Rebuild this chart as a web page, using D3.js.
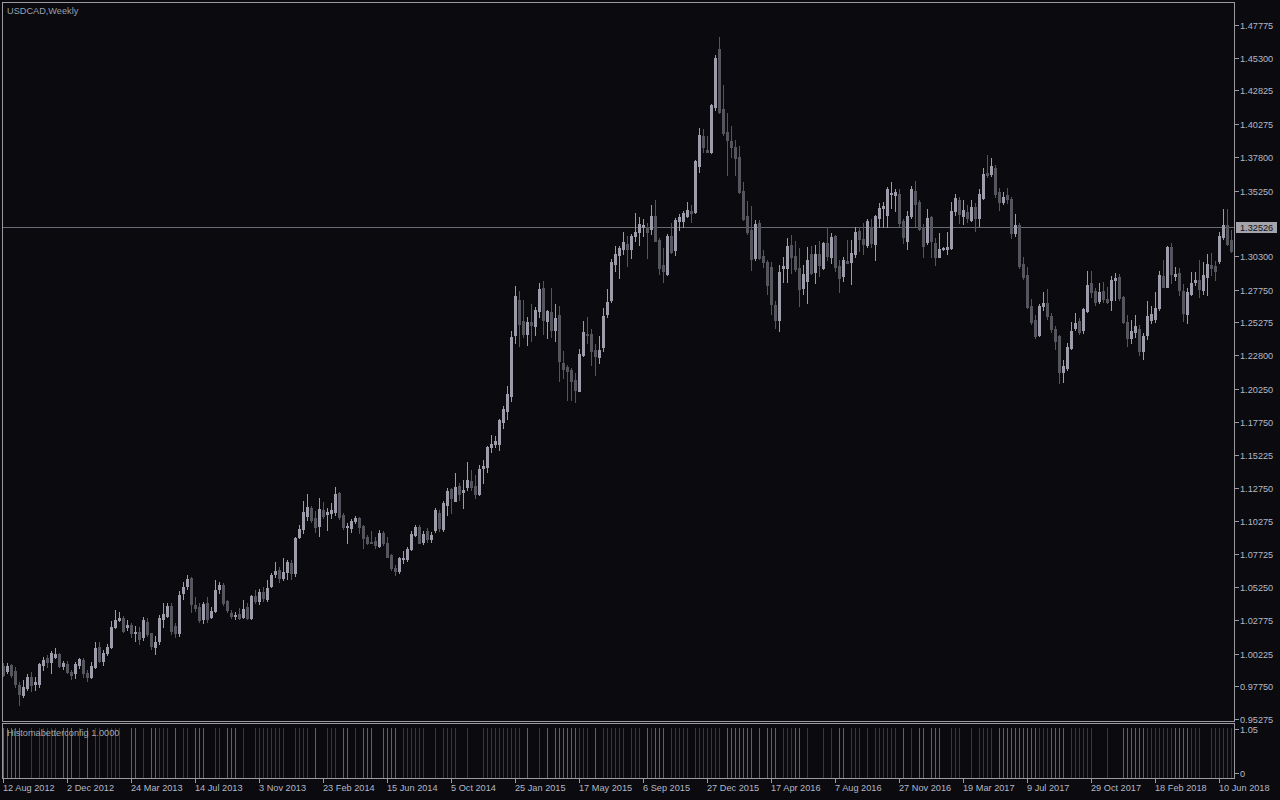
<!DOCTYPE html>
<html><head><meta charset="utf-8">
<script src="https://cdn.jsdelivr.net/npm/d3@7"></script>
<style>
html,body{margin:0;padding:0;background:#0a0a0f;overflow:hidden;}
svg{display:block;}
text{font-family:"Liberation Sans",Arial,sans-serif;}
</style></head><body>
<svg id="c" width="1280" height="800"></svg>
<script>
const symbolTitle = "USDCAD,Weekly";
const indicatorTitle = "Histomabetterconfig 1.0000";
const firstWeek = "2012-08-12";
const bidPrice = 1.32526;

const open = [0.9929,0.9893,0.9936,0.9891,0.9785,0.9709,0.9760,0.9848,0.9793,0.9793,
0.9936,0.9992,0.9961,0.9999,1.0019,0.9929,0.9944,0.9883,0.9873,0.9936,
0.9974,0.9873,0.9848,0.9924,1.0070,0.9969,1.0029,1.0070,1.0226,1.0276,
1.0294,1.0226,1.0239,1.0181,1.0188,1.0145,1.0264,1.0176,1.0075,1.0120,
1.0284,1.0307,1.0385,1.0231,1.0181,1.0483,1.0533,1.0594,1.0390,1.0372,
1.0281,1.0402,1.0297,1.0347,1.0511,1.0541,1.0423,1.0332,1.0307,1.0322,
1.0302,1.0377,1.0294,1.0458,1.0423,1.0486,1.0435,1.0534,1.0624,1.0655,
1.0597,1.0642,1.0710,1.0634,1.0907,1.0962,1.1063,1.1123,1.1050,1.0987,
1.1108,1.1080,1.1088,1.1093,1.1234,1.1070,1.0982,1.0975,1.1028,1.1048,
1.0987,1.0907,1.0866,1.0876,1.0839,1.0937,1.0861,1.0768,1.0672,1.0650,
1.0738,1.0735,1.0813,1.0919,1.0982,1.0870,1.0950,1.0890,1.0958,1.1089,
1.0963,1.1147,1.1266,1.1180,1.1291,1.1241,1.1286,1.1331,1.1291,1.1231,
1.1430,1.1437,1.1588,1.1606,1.1609,1.1777,1.1861,1.1971,1.2433,1.2697,
1.2538,1.2440,1.2531,1.2501,1.2617,1.2788,1.2538,1.2609,1.2470,1.2584,
1.2218,1.2191,1.2165,1.2094,1.2011,1.2283,1.2442,1.2442,1.2321,1.2263,
1.2338,1.2593,1.2694,1.2971,1.3034,1.3084,1.3122,1.3084,1.3178,1.3208,
1.3253,1.3253,1.3233,1.3334,1.3152,1.2963,1.2895,1.3178,1.3072,1.3296,
1.3296,1.3336,1.3367,1.3362,1.3714,1.3939,1.3833,1.3813,1.4160,1.4596,
1.4143,1.3969,1.3903,1.3858,1.3782,1.3523,1.3334,1.3228,1.3014,1.3283,
1.3031,1.2988,1.2950,1.2660,1.2547,1.2937,1.2942,1.3114,1.3031,1.2937,
1.2791,1.2842,1.3046,1.2912,1.3046,1.2942,1.3126,1.3026,1.3182,1.2955,
1.2879,1.2993,1.2988,1.3046,1.3220,1.3157,1.3114,1.3247,1.3121,1.3320,
1.3396,1.3341,1.3499,1.3492,1.3499,1.3295,1.3147,1.3333,1.3522,1.3441,
1.3252,1.3134,1.3328,1.3131,1.3026,1.3086,1.3084,1.3094,1.3373,1.3454,
1.3336,1.3363,1.3303,1.3404,1.3320,1.3472,1.3656,1.3651,1.3693,1.3512,
1.3436,1.3492,1.3462,1.3207,1.3265,1.2970,1.2887,1.2648,1.2546,1.2433,
1.2653,1.2673,1.2577,1.2478,1.2425,1.2156,1.2186,1.2337,1.2488,1.2541,
1.2471,1.2617,1.2829,1.2768,1.2693,1.2768,1.2705,1.2698,1.2849,1.2874,
1.2723,1.2534,1.2413,1.2458,1.2476,1.2315,1.2433,1.2546,1.2554,1.2640,
1.2879,1.2798,1.3101,1.2879,1.2904,1.2768,1.2592,1.2743,1.2836,1.2849,
1.2773,1.2869,1.2962,1.2955,1.2992,1.3176,1.3265,1.3151];

const high = [0.9954,0.9954,0.9944,0.9924,0.9810,0.9823,0.9868,0.9886,0.9848,0.9949,
0.9999,1.0012,1.0045,1.0062,1.0024,0.9969,0.9966,0.9898,0.9956,0.9987,
0.9987,0.9898,0.9961,1.0113,1.0113,1.0050,1.0095,1.0271,1.0352,1.0339,
1.0309,1.0276,1.0251,1.0231,1.0226,1.0302,1.0289,1.0181,1.0155,1.0314,
1.0402,1.0407,1.0402,1.0251,1.0498,1.0566,1.0617,1.0604,1.0448,1.0407,
1.0415,1.0453,1.0377,1.0579,1.0566,1.0554,1.0428,1.0352,1.0340,1.0365,
1.0428,1.0403,1.0466,1.0503,1.0508,1.0529,1.0579,1.0634,1.0718,1.0680,
1.0743,1.0730,1.0730,1.0907,1.0995,1.1176,1.1229,1.1138,1.1101,1.1196,
1.1169,1.1121,1.1159,1.1285,1.1247,1.1083,1.1007,1.1038,1.1063,1.1058,
1.0995,1.0919,1.0952,1.0907,1.0957,1.0952,1.0902,1.0776,1.0692,1.0750,
1.0801,1.0831,1.0952,1.0995,1.0995,1.0950,1.0975,1.0940,1.1122,1.1110,
1.1180,1.1273,1.1273,1.1387,1.1311,1.1336,1.1475,1.1412,1.1374,1.1450,
1.1488,1.1593,1.1677,1.1669,1.1795,1.1896,1.2047,1.2463,1.2803,1.2768,
1.2697,1.2571,1.2667,1.2642,1.2823,1.2841,1.2622,1.2785,1.2667,1.2652,
1.2312,1.2206,1.2182,1.2144,1.2326,1.2540,1.2568,1.2480,1.2366,1.2427,
1.2636,1.2779,1.3006,1.3107,1.3102,1.3215,1.3183,1.3198,1.3359,1.3324,
1.3309,1.3283,1.3417,1.3455,1.3165,1.3089,1.3198,1.3283,1.3316,1.3349,
1.3372,1.3442,1.3417,1.3757,1.4002,1.3989,1.3939,1.4181,1.4551,1.4690,
1.4324,1.4110,1.4014,1.3908,1.3863,1.3593,1.3447,1.3409,1.3299,1.3303,
1.3076,1.3000,1.2988,1.2693,1.2963,1.3021,1.3164,1.3189,1.3147,1.3089,
1.2963,1.3096,1.3106,1.3114,1.3144,1.3139,1.3247,1.3202,1.3189,1.3000,
1.3026,1.3152,1.3152,1.3247,1.3247,1.3277,1.3310,1.3308,1.3341,1.3429,
1.3441,1.3555,1.3588,1.3535,1.3535,1.3308,1.3371,1.3560,1.3598,1.3454,
1.3273,1.3383,1.3333,1.3164,1.3207,1.3101,1.3215,1.3436,1.3499,1.3479,
1.3454,1.3416,1.3454,1.3429,1.3535,1.3693,1.3794,1.3769,1.3719,1.3542,
1.3517,1.3542,1.3474,1.3348,1.3277,1.3021,1.2950,1.2705,1.2584,1.2668,
1.2756,1.2778,1.2602,1.2501,1.2433,1.2244,1.2375,1.2534,1.2602,1.2559,
1.2635,1.2919,1.2919,1.2786,1.2824,1.2836,1.2793,1.2879,1.2899,1.2894,
1.2728,1.2584,1.2546,1.2584,1.2509,1.2446,1.2693,1.2655,1.2761,1.2919,
1.2999,1.3106,1.3131,1.2950,1.2937,1.2819,1.2786,1.2912,1.2912,1.2999,
1.2987,1.3045,1.3050,1.2992,1.3214,1.3383,1.3383,1.3227];

const low = [0.9853,0.9873,0.9848,0.9772,0.9634,0.9697,0.9747,0.9742,0.9747,0.9772,
0.9898,0.9924,0.9878,0.9987,0.9919,0.9903,0.9873,0.9830,0.9840,0.9911,
0.9843,0.9818,0.9835,0.9911,0.9961,0.9936,1.0012,1.0062,1.0213,1.0271,
1.0188,1.0201,1.0150,1.0118,1.0095,1.0125,1.0155,1.0055,1.0017,1.0092,
1.0226,1.0302,1.0171,1.0145,1.0155,1.0433,1.0508,1.0334,1.0347,1.0264,
1.0251,1.0264,1.0289,1.0340,1.0478,1.0390,1.0340,1.0289,1.0282,1.0282,
1.0289,1.0282,1.0282,1.0408,1.0398,1.0423,1.0423,1.0529,1.0604,1.0566,
1.0579,1.0584,1.0584,1.0609,1.0894,1.0932,1.1033,1.1020,1.0944,1.0914,
1.1050,1.0957,1.1045,1.1070,1.1038,1.0962,1.0861,1.0944,1.1007,1.0932,
1.0818,1.0849,1.0856,1.0823,1.0831,1.0844,1.0750,1.0655,1.0617,1.0634,
1.0710,1.0725,1.0806,1.0912,1.0856,1.0850,1.0870,1.0865,1.0940,1.0946,
1.0953,1.1072,1.1084,1.1173,1.1185,1.1127,1.1261,1.1261,1.1198,1.1223,
1.1316,1.1399,1.1551,1.1583,1.1563,1.1732,1.1798,1.1936,1.2375,1.2349,
1.2420,1.2357,1.2390,1.2433,1.2571,1.2440,1.2407,1.2420,1.2390,1.2087,
1.2105,1.1941,1.1938,1.1923,1.2006,1.2275,1.2371,1.2207,1.2127,1.2220,
1.2308,1.2568,1.2679,1.2913,1.2863,1.3047,1.2951,1.3014,1.3140,1.3115,
1.3178,1.3014,1.3198,1.3140,1.2895,1.2832,1.2888,1.3052,1.3034,1.3228,
1.3246,1.3324,1.3291,1.3354,1.3669,1.3813,1.3813,1.3808,1.4135,1.4110,
1.3946,1.3639,1.3782,1.3644,1.3505,1.3304,1.3198,1.2921,1.3001,1.3005,
1.2950,1.2743,1.2592,1.2484,1.2459,1.2837,1.2837,1.2905,1.2920,1.2653,
1.2743,1.2678,1.2895,1.2829,1.2879,1.2930,1.3000,1.2975,1.2920,1.2761,
1.2844,1.2975,1.2819,1.3026,1.3071,1.3046,1.3101,1.3101,1.3000,1.3252,
1.3252,1.3247,1.3396,1.3371,1.3257,1.3131,1.3081,1.3315,1.3257,1.3227,
1.3021,1.3119,1.3026,1.2963,1.3021,1.3076,1.3046,1.3081,1.3341,1.3283,
1.3273,1.3290,1.3295,1.3222,1.3257,1.3459,1.3630,1.3635,1.3479,1.3378,
1.3421,1.3429,1.3164,1.3182,1.2937,1.2854,1.2635,1.2516,1.2413,1.2425,
1.2622,1.2556,1.2458,1.2325,1.2068,1.2080,1.2168,1.2325,1.2471,1.2441,
1.2451,1.2609,1.2723,1.2660,1.2673,1.2685,1.2673,1.2622,1.2698,1.2698,
1.2526,1.2352,1.2375,1.2420,1.2282,1.2249,1.2400,1.2521,1.2534,1.2622,
1.2793,1.2793,1.2829,1.2849,1.2735,1.2541,1.2526,1.2735,1.2811,1.2723,
1.2743,1.2735,1.2887,1.2849,1.2975,1.3156,1.3114,1.3063];

const close = [0.9861,0.9929,0.9861,0.9793,0.9717,0.9772,0.9848,0.9785,0.9808,0.9944,
0.9974,0.9956,1.0024,1.0017,0.9929,0.9954,0.9886,0.9861,0.9944,0.9982,
0.9878,0.9848,0.9929,1.0062,0.9969,1.0029,1.0070,1.0226,1.0276,1.0294,
1.0193,1.0239,1.0176,1.0188,1.0133,1.0276,1.0171,1.0080,1.0113,1.0289,
1.0322,1.0382,1.0193,1.0176,1.0465,1.0528,1.0586,1.0397,1.0365,1.0276,
1.0395,1.0281,1.0347,1.0503,1.0541,1.0408,1.0352,1.0307,1.0314,1.0294,
1.0360,1.0289,1.0458,1.0423,1.0491,1.0440,1.0521,1.0617,1.0650,1.0592,
1.0642,1.0718,1.0634,1.0899,1.0962,1.1096,1.1128,1.1033,1.0982,1.1116,
1.1063,1.1093,1.1108,1.1229,1.1058,1.0982,1.0987,1.1025,1.1048,1.0977,
1.0899,1.0861,1.0861,1.0844,1.0937,1.0856,1.0755,1.0667,1.0647,1.0743,
1.0745,1.0811,1.0927,1.0982,1.0861,1.0930,1.0890,1.0920,1.1105,1.0971,
1.1165,1.1256,1.1198,1.1286,1.1231,1.1261,1.1336,1.1286,1.1231,1.1420,
1.1442,1.1588,1.1609,1.1631,1.1790,1.1873,1.1987,1.2420,1.2727,1.2516,
1.2440,1.2531,1.2508,1.2622,1.2780,1.2546,1.2614,1.2470,1.2561,1.2239,
1.2176,1.2160,1.2081,1.2013,1.2291,1.2452,1.2429,1.2308,1.2270,1.2321,
1.2573,1.2679,1.2981,1.3047,1.3089,1.3137,1.3084,1.3183,1.3215,1.3273,
1.3263,1.3215,1.3334,1.3147,1.2936,1.2913,1.3178,1.3059,1.3304,1.3324,
1.3359,1.3379,1.3359,1.3752,1.3946,1.3853,1.3820,1.4173,1.4528,1.4123,
1.3964,1.3908,1.3853,1.3770,1.3513,1.3309,1.3208,1.3011,1.3273,1.3013,
1.2988,1.2811,1.2668,1.2547,1.2912,1.2955,1.3106,1.3021,1.2932,1.2779,
1.2895,1.3000,1.2905,1.3046,1.2963,1.3126,1.3031,1.3172,1.2950,1.2867,
1.3000,1.2980,1.3051,1.3212,1.3157,1.3121,1.3295,1.3126,1.3333,1.3396,
1.3409,1.3537,1.3509,1.3514,1.3283,1.3172,1.3333,1.3537,1.3424,1.3235,
1.3109,1.3315,1.3147,1.3021,1.3084,1.3091,1.3101,1.3371,1.3467,1.3348,
1.3378,1.3315,1.3399,1.3320,1.3499,1.3651,1.3643,1.3711,1.3499,1.3441,
1.3479,1.3462,1.3207,1.3265,1.2955,1.2869,1.2643,1.2534,1.2425,1.2648,
1.2678,1.2577,1.2478,1.2390,1.2156,1.2201,1.2345,1.2463,1.2526,1.2458,
1.2629,1.2811,1.2761,1.2680,1.2756,1.2703,1.2685,1.2849,1.2864,1.2710,
1.2534,1.2408,1.2463,1.2501,1.2315,1.2425,1.2577,1.2592,1.2640,1.2887,
1.2798,1.3096,1.2894,1.2894,1.2773,1.2602,1.2756,1.2824,1.2849,1.2778,
1.2887,1.2970,1.2937,1.2919,1.3181,1.3265,1.3121,1.3071];

// indicator histogram: r = red bar, b = blue bar, . = none (one char per week)
const signal =
"rrrrr..b.b"+"bbbb.rrr.b"+".r.bb.bbbb"+"..rr.b.rrb"+"bb.r.bb.rr"+
"r..bb.rrr."+"b..bbbbbbb"+"b..bbbb.r."+".bbb.rr.b."+"rrr..rrrr."+
"bbbbbb..b."+"bbbb..b..."+"bbbbbbbbbb"+".r..b.r.rr"+"rrrrbbb.r."+
"bbbbbb.bbb"+".rbrrr.bbb"+"bb.bbbbbbb"+".rrrrrrr.r"+".rrr.bbbrr"+
".b...b.b.r"+"r.bbb.b.bb"+"bbbb.r.b.r"+"r.rrr..bbb"+"..b.bbbb.r"+
"rrrrrrrrrb"+"bbrrrr.bbb"+"bbb...b..."+"rrrrrrbbbb"+"bbbrrrrbbb"+
"..bbbbbb";

const priceTicks = [1.47775,1.45300,1.42825,1.40275,1.37800,1.35250,1.30300,1.27750,1.25275,
1.22800,1.20250,1.17750,1.15225,1.12750,1.10275,1.07725,1.05250,1.02775,1.00225,0.97750,0.95275];
const timeTickLabels = ["12 Aug 2012","2 Dec 2012","24 Mar 2013","14 Jul 2013","3 Nov 2013",
"23 Feb 2014","15 Jun 2014","5 Oct 2014","25 Jan 2015","17 May 2015","6 Sep 2015","27 Dec 2015",
"17 Apr 2016","7 Aug 2016","27 Nov 2016","19 Mar 2017","9 Jul 2017","29 Oct 2017","18 Feb 2018","10 Jun 2018"];
const indicatorTicks = ["1.05","0"];

// ---------- drawing ----------
const W = 1280, H = 800;
const plotL = 2.5, plotR = 1234.5, mainT = 2.5, mainB = 721.5, indT = 723.5, indB = 778.5;
const COL = {bg:"#0a0a0f", frame:"#9a9aa0", text:"#b4b8c6", bull:"#9c9cab", bear:"#55555d",
  bid:"#6a6a74", red:"#ff1e1e", blue:"#1e1eff", title:"#9aa0b0"};

const svg = d3.select("#c");
svg.append("rect").attr("width",W).attr("height",H).attr("fill",COL.bg);

const parseDay = d3.utcParse("%Y-%m-%d");
const start = parseDay(firstWeek);
const data = open.map((o,i)=>({date:d3.utcWeek.offset(start,i), o, h:high[i], l:low[i], c:close[i], s:signal[i]}));

const x = d3.scaleUtc().domain([data[0].date, data[data.length-1].date]).range([3, 1231]);
const y = d3.scaleLinear().domain([0.95275, 1.47775]).range([719, 25]);
const yi = d3.scaleLinear().domain([0, 1.05]).range([778, 725.5]);

const defs = svg.append("defs");
defs.append("clipPath").attr("id","clipMain").append("rect")
  .attr("x",plotL+0.5).attr("y",mainT+0.5).attr("width",plotR-plotL-1).attr("height",mainB-mainT-1);
defs.append("clipPath").attr("id","clipInd").append("rect")
  .attr("x",plotL+0.5).attr("y",indT+0.5).attr("width",plotR-plotL-1).attr("height",indB-indT-1);

// bid line
svg.append("line").attr("x1",plotL).attr("x2",plotR)
  .attr("y1",Math.round(y(bidPrice))+0.5).attr("y2",Math.round(y(bidPrice))+0.5)
  .attr("stroke",COL.bid).attr("stroke-width",1).attr("shape-rendering","crispEdges");

// candles
const gC = svg.append("g").attr("clip-path","url(#clipMain)").attr("shape-rendering","crispEdges");
const cx = d => Math.round(x(d.date));
const col = d => d.c > d.o ? COL.bull : COL.bear;
gC.selectAll("rect.w").data(data).join("rect").attr("class","w")
  .attr("x", d => cx(d)).attr("width",1)
  .attr("y", d => Math.round(y(d.h)))
  .attr("height", d => Math.max(1, Math.round(y(d.l)) - Math.round(y(d.h)) + 1))
  .attr("fill", col);
gC.selectAll("rect.b").data(data).join("rect").attr("class","b")
  .attr("x", d => cx(d)-1).attr("width",3)
  .attr("y", d => Math.round(y(Math.max(d.o,d.c))))
  .attr("height", d => Math.max(1, Math.round(y(Math.min(d.o,d.c))) - Math.round(y(Math.max(d.o,d.c))) + 1))
  .attr("fill", col);

// indicator histogram
const gI = svg.append("g").attr("clip-path","url(#clipInd)").attr("shape-rendering","crispEdges");
gI.selectAll("rect").data(data.filter(d=>d.s!==".")).join("rect")
  .attr("x", d => cx(d)).attr("width",1)
  .attr("y", yi(1)).attr("height", yi(0)-yi(1))
  .attr("fill", d => d.s==="r" ? COL.red : COL.blue);

// frames
const frames = svg.append("g").attr("fill","none").attr("stroke",COL.frame).attr("shape-rendering","crispEdges");
frames.append("rect").attr("x",plotL).attr("y",mainT).attr("width",plotR-plotL).attr("height",mainB-mainT);
frames.append("rect").attr("x",plotL).attr("y",indT).attr("width",plotR-plotL).attr("height",indB-indT);

// price axis
const gY = svg.append("g");
gY.selectAll("line").data(priceTicks).join("line")
  .attr("x1",plotR).attr("x2",plotR+4)
  .attr("y1",d=>Math.round(y(d))+0.5).attr("y2",d=>Math.round(y(d))+0.5)
  .attr("stroke",COL.frame).attr("shape-rendering","crispEdges");
gY.selectAll("text").data(priceTicks).join("text")
  .attr("x",1240).attr("y",d=>Math.round(y(d))+3.5)
  .attr("fill",COL.text).attr("font-size","9.2px")
  .text(d=>d.toFixed(5));

// bid label
const by = Math.round(y(bidPrice));
svg.append("rect").attr("x",1236).attr("y",by-5.5).attr("width",41).attr("height",11)
  .attr("fill","#a4a4ac").attr("shape-rendering","crispEdges");
svg.append("text").attr("x",1240).attr("y",by+3.5).attr("fill","#101014").attr("font-size","9.2px")
  .text(bidPrice.toFixed(5));

// indicator axis
const indTickY = [yi(1.05)+3, yi(0)-5];
indicatorTicks.forEach((t,k)=>{
  svg.append("line").attr("x1",plotR).attr("x2",plotR+4)
    .attr("y1",Math.round(indTickY[k])+0.5).attr("y2",Math.round(indTickY[k])+0.5)
    .attr("stroke",COL.frame).attr("shape-rendering","crispEdges");
  svg.append("text").attr("x",1240).attr("y",Math.round(indTickY[k])+3.5)
    .attr("fill",COL.text).attr("font-size","9.2px").text(t);
});

// time axis
const parseLbl = d3.utcParse("%d %b %Y");
const gX = svg.append("g");
timeTickLabels.forEach(lbl=>{
  const px = Math.round(x(parseLbl(lbl)));
  gX.append("line").attr("x1",px+0.5).attr("x2",px+0.5).attr("y1",indB).attr("y2",indB+4)
    .attr("stroke",COL.frame).attr("shape-rendering","crispEdges");
  gX.append("text").attr("x",px).attr("y",791).attr("fill",COL.text).attr("font-size","9.2px").text(lbl);
});

// titles
svg.append("text").attr("x",7).attr("y",14).attr("fill",COL.title).attr("font-size","9.2px").text(symbolTitle);
svg.append("text").attr("x",7).attr("y",736).attr("fill","#a8a8ae").attr("font-size","9.2px").text(indicatorTitle);
</script>
</body></html>
